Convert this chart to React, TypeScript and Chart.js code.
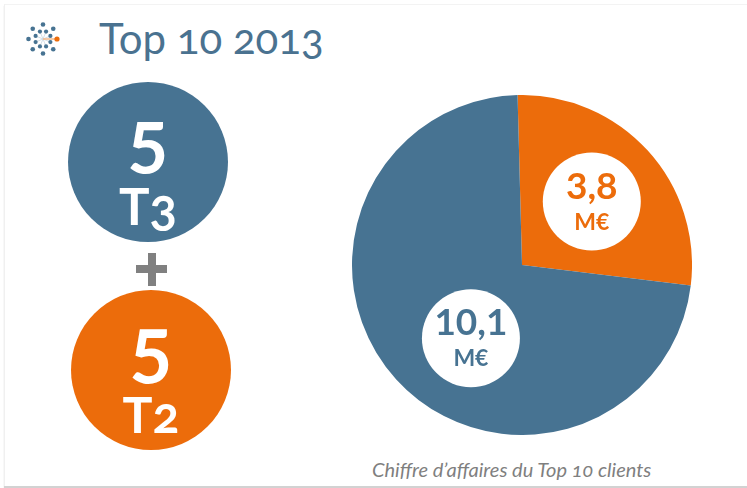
import React, { useEffect, useRef } from "react";
import { Chart, registerables } from "chart.js";

Chart.register(...registerables);

const sliceLabels = ["Top 3 (T3)", "Autres (T2)"];
const sliceValues = [3.8, 10.1];
const sliceTexts = ["3,8", "10,1"];
const unitText = "M€";
const sliceColors = ["#EC6C0B", "#477392"];
const title = "Top 10 2013";
const countTop = ["5", "5"];
const countTags = [["T", "3"], ["T", "2"]];
const caption = "Chiffre d’affaires du Top 10 clients";

const BLUE = "#477392";
const ORANGE = "#EC6C0B";

const labelPlugin = {
  id: "circleLabels",
  afterDatasetsDraw(chart: any, _args: any, opts: any) {
    const ctx = chart.ctx;
    const meta = chart.getDatasetMeta(0);
    meta.data.forEach((arc: any, i: number) => {
      const p = arc.getProps(["x", "y", "startAngle", "endAngle", "outerRadius"], true);
      const off = opts.offsets[i];
      const mid = (p.startAngle + p.endAngle) / 2 + (off.angle * Math.PI) / 180;
      const cx = p.x + Math.cos(mid) * p.outerRadius * off.r;
      const cy = p.y + Math.sin(mid) * p.outerRadius * off.r;
      ctx.save();
      ctx.beginPath();
      ctx.arc(cx, cy, opts.radius, 0, Math.PI * 2);
      ctx.fillStyle = "#ffffff";
      ctx.fill();
      ctx.fillStyle = sliceColors[i];
      ctx.textAlign = "center";
      ctx.textBaseline = "alphabetic";
      ctx.font = "bold 37px Lato";
      ctx.fillText(sliceTexts[i], cx, cy - 3);
      ctx.font = "bold 23px Lato";
      ctx.fillText(unitText, cx, cy + 28);
      ctx.restore();
    });
  },
};

function PieChart() {
  const ref = useRef<HTMLCanvasElement | null>(null);
  useEffect(() => {
    if (!ref.current) return;
    const chart = new Chart(ref.current, {
      type: "pie",
      data: {
        labels: sliceLabels,
        datasets: [
          {
            data: sliceValues,
            backgroundColor: sliceColors,
            borderWidth: 0,
          },
        ],
      },
      options: {
        animation: false,
        responsive: false,
        rotation: -1.5,
        layout: { padding: 0 },
        plugins: {
          legend: { display: false },
          tooltip: { enabled: false },
          circleLabels: {
            radius: 49,
            offsets: [
              { angle: 0, r: 0.555 },
              { angle: -12.8, r: 0.525 },
            ],
          },
        } as any,
      },
      plugins: [labelPlugin],
    });
    return () => chart.destroy();
  }, []);
  return (
    <canvas
      ref={ref}
      width={340}
      height={340}
      style={{ position: "absolute", left: 352, top: 95, width: 340, height: 340 }}
    />
  );
}

function Logo() {
  const cx = 43;
  const cy = 39;
  const outer: [number, number][] = [];
  const inner: [number, number][] = [];
  for (let k = 1; k < 8; k++) {
    const a = (k * Math.PI) / 4;
    outer.push([cx + Math.cos(a) * 14.5, cy + Math.sin(a) * 14.5]);
  }
  for (let k = 0; k < 8; k++) {
    const a = (k * Math.PI) / 4 + Math.PI / 8;
    inner.push([cx + Math.cos(a) * 8, cy + Math.sin(a) * 8]);
  }
  return (
    <svg width={747} height={488} style={{ position: "absolute", left: 0, top: 0 }}>
      {inner.map(([x, y], i) => (
        <line key={"l" + i} x1={cx} y1={cy} x2={x} y2={y} stroke="#c9d6e0" strokeWidth={0.8} />
      ))}
      <line x1={cx} y1={cy} x2={57} y2={cy} stroke="#f5b98a" strokeWidth={1.5} />
      {outer.map(([x, y], i) => (
        <circle key={"o" + i} cx={x} cy={y} r={2.3} fill={BLUE} />
      ))}
      {inner.map(([x, y], i) => (
        <circle key={"i" + i} cx={x} cy={y} r={2.1} fill={BLUE} />
      ))}
      <circle cx={57} cy={cy} r={2.6} fill={ORANGE} />
    </svg>
  );
}

function CountCircle(props: { cx: number; cy: number; color: string; num: string; tag: string[]; numTop: number; numSize: number; tagTop: number; tagSize: number }) {
  const { cx, cy, color, num, tag, numTop, numSize, tagTop, tagSize } = props;
  return (
    <>
      <div
        style={{
          position: "absolute",
          left: cx - 80,
          top: cy - 80,
          width: 160,
          height: 160,
          borderRadius: "50%",
          background: color,
        }}
      />
      <div
        style={{
          position: "absolute",
          left: cx - 80,
          width: 160,
          top: numTop,
          textAlign: "center",
          font: `bold ${numSize}px Lato`,
          lineHeight: 1,
          color: "#fff",
          fontVariantNumeric: "oldstyle-nums",
        }}
      >
        {num}
      </div>
      <div
        style={{
          position: "absolute",
          left: cx - 80,
          width: 160,
          top: tagTop,
          textAlign: "center",
          font: `bold ${tagSize}px Lato`,
          lineHeight: 1,
          color: "#fff",
          fontVariantNumeric: "oldstyle-nums",
        }}
      >
        {tag[0]}
        {tag[1]}
      </div>
    </>
  );
}

export default function App() {
  return (
    <div
      style={{
        position: "fixed",
        left: 0,
        top: 0,
        width: 747,
        height: 488,
        background: "#ffffff",
        overflow: "hidden",
        fontFamily: "Lato, sans-serif",
      }}
    >
      <div
        style={{
          position: "absolute",
          left: 4,
          top: 4,
          width: 800,
          height: 481,
          background: "#fff",
          borderLeft: "1px solid #f0f0f0",
          borderTop: "1px solid #f3f3f3",
          boxShadow: "0 2px 1px #d2d2d2",
        }}
      />
      <Logo />
      <div
        style={{
          position: "absolute",
          left: 99,
          top: 17,
          font: "400 42px Lato",
          lineHeight: 1,
          color: "#4A7290",
          whiteSpace: "nowrap",
          fontFeatureSettings: '"onum" 1',
          fontVariantNumeric: "oldstyle-nums",
        }}
      >
        {title}
      </div>
      <CountCircle cx={148} cy={162} color={BLUE} num={countTop[0]} tag={countTags[0]} numTop={98} numSize={76} tagTop={180} tagSize={51} />
      <div style={{ position: "absolute", left: 136, top: 265, width: 31, height: 8, background: "#808080" }} />
      <div style={{ position: "absolute", left: 148, top: 253, width: 8, height: 33, background: "#808080" }} />
      <CountCircle cx={151} cy={370} color={ORANGE} num={countTop[1]} tag={countTags[1]} numTop={304} numSize={80} tagTop={389} tagSize={50} />
      <PieChart />
      <div
        style={{
          position: "absolute",
          left: 372,
          top: 459,
          font: "italic 400 20px Lato",
          lineHeight: 1,
          color: "#7F7F7F",
          whiteSpace: "nowrap",
          fontVariantNumeric: "oldstyle-nums",
        }}
      >
        {caption}
      </div>
    </div>
  );
}
